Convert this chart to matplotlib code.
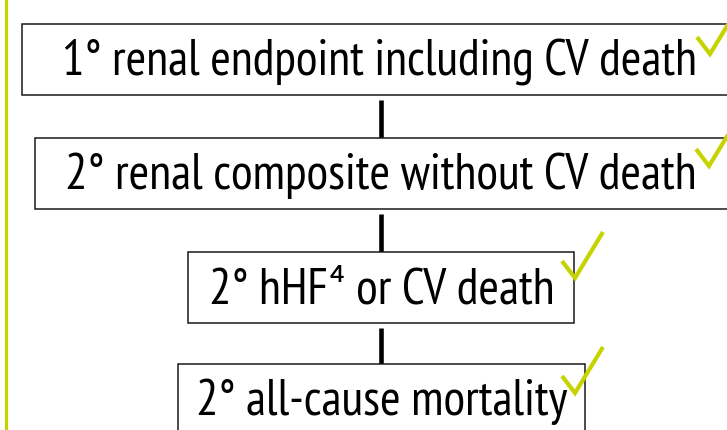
import matplotlib
matplotlib.use("Agg")
import matplotlib.pyplot as plt
from matplotlib.patches import Rectangle

# ---- content ----
labels = [
    "1° renal endpoint including CV death",
    "2° renal composite without CV death",
    "2° hHF⁴ or CV death",
    "2° all-cause mortality",
]
achieved = [True, True, True, True]

# ---- layout (pixels, origin top-left) ----
W, H = 727, 431
box_left = [22, 35, 188, 178]
box_right = [745, 745, 574, 585]
box_top = [25, 139, 253, 365]
box_h = 71
text_center_x = [379.5, 380.5, 381.5, 382]
conn_x = 381
check_left = [(697, 38), (696, 150), (562, 262), (562, 377)]
green = "#c5d400"

fig = plt.figure(figsize=(W / 100, H / 100), dpi=100)
ax = fig.add_axes([0, 0, 1, 1])
ax.set_xlim(0, W)
ax.set_ylim(H, 0)
ax.axis("off")

fam = ["PT Sans Narrow", "Carlito", "DejaVu Sans"]

# fit font size so first label spans ~633 px
fs = 28
t = ax.text(0, 0, labels[0], fontsize=fs, family=fam)
fig.canvas.draw()
bb = t.get_window_extent(renderer=fig.canvas.get_renderer())
fs = fs * 633 / bb.width
t.remove()

# green vertical bar on the left
ax.plot([5.5, 5.5], [0, H], color=green, lw=2.3, solid_capstyle="butt")

for i, lab in enumerate(labels):
    x0, x1, y0 = box_left[i], box_right[i], box_top[i]
    ax.add_patch(Rectangle((x0, y0), x1 - x0, box_h, fill=True, facecolor="white",
                           edgecolor="#1a1a1a", lw=1.1, zorder=2))
    cy = y0 + box_h / 2
    ax.text(text_center_x[i], cy + 15, lab, fontsize=fs, family=fam, ha="center",
            va="baseline", color="black", zorder=3)
    if i < len(labels) - 1:
        ax.plot([conn_x, conn_x], [y0 + box_h + 5, box_top[i + 1]], color="black",
                lw=3.3, solid_capstyle="butt", zorder=1)
    if achieved[i]:
        lx, ly = check_left[i]
        ax.plot([lx, lx + 13, lx + 41], [ly, ly + 17, ly - 29], color=green, lw=3.0,
                solid_joinstyle="miter", solid_capstyle="butt", zorder=4)

fig.savefig("out.png", dpi=100)
